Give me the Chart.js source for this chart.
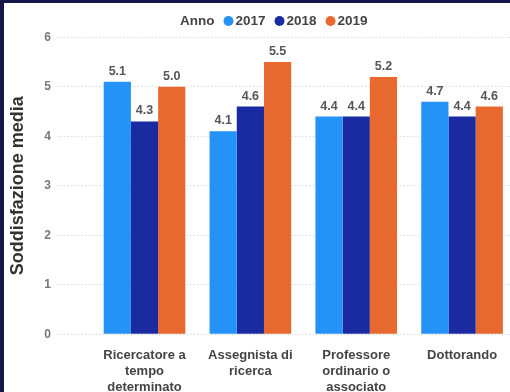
<!DOCTYPE html>
<html lang="it">
<head>
<meta charset="utf-8">
<title>Soddisfazione media per ruolo</title>
<script src="https://cdn.jsdelivr.net/npm/chart.js@4.4.1/dist/chart.umd.min.js"></script>
<style>
  html, body { margin: 0; padding: 0; width: 510px; height: 392px; overflow: hidden; background: #16164a; }
  .frame { position: absolute; left: 4px; top: 3px; width: 511px; height: 389px; background: #fff; }
</style>
</head>
<body>
<div class="frame"><canvas id="satChart"></canvas></div>
<script>
// ── DATA ──────────────────────────────────────────────────────────────────────
const categories = [
  ['Ricercatore a', 'tempo', 'determinato'],
  ['Assegnista di', 'ricerca'],
  ['Professore', 'ordinario o', 'associato'],
  ['Dottorando']
];
const years = ['2017', '2018', '2019'];
const values2017 = [5.1, 4.1, 4.4, 4.7];
const values2018 = [4.3, 4.6, 4.4, 4.4];
const values2019 = [5.0, 5.5, 5.2, 4.6];
const yTicks = [0, 1, 2, 3, 4, 5, 6];

const colors = ['#2492f6', '#1a2aa0', '#e8692f'];
const FONT = '"Liberation Sans", Arial, sans-serif';

// ── PLUGINS ───────────────────────────────────────────────────────────────────
// value printed above every bar
const barValues = {
  id: 'barValues',
  afterDatasetsDraw(chart) {
    const ctx = chart.ctx;
    ctx.save();
    ctx.font = 'bold 12.5px ' + FONT;
    ctx.fillStyle = '#555';
    ctx.textAlign = 'center';
    ctx.textBaseline = 'alphabetic';
    chart.data.datasets.forEach((ds, i) => {
      chart.getDatasetMeta(i).data.forEach((bar, j) => {
        ctx.fillText(ds.data[j].toFixed(1), bar.x, bar.y - 7);
      });
    });
    ctx.restore();
  }
};

// "Anno" + round markers on a single row
const yearLegend = {
  id: 'yearLegend',
  afterDraw(chart) {
    const ctx = chart.ctx;
    const y = 18;
    let x = 176;
    ctx.save();
    ctx.font = 'bold 13.5px ' + FONT;
    ctx.fillStyle = '#444';
    ctx.textBaseline = 'middle';
    ctx.textAlign = 'left';
    ctx.fillText('Anno', x, y);
    x += ctx.measureText('Anno').width + 9;
    chart.data.datasets.forEach(ds => {
      ctx.beginPath();
      ctx.arc(x + 5, y, 5, 0, Math.PI * 2);
      ctx.fillStyle = ds.backgroundColor;
      ctx.fill();
      x += 12;
      ctx.fillStyle = '#444';
      ctx.fillText(ds.label, x, y);
      x += ctx.measureText(ds.label).width + 9;
    });
    ctx.restore();
  }
};

// ── CHART ─────────────────────────────────────────────────────────────────────
const seriesValues = [values2017, values2018, values2019];

new Chart(document.getElementById('satChart'), {
  type: 'bar',
  data: {
    labels: categories,
    datasets: years.map((yr, i) => ({
      label: yr,
      data: seriesValues[i],
      backgroundColor: colors[i],
      borderWidth: 0,
      categoryPercentage: 0.771,
      barPercentage: 1
    }))
  },
  options: {
    responsive: true, maintainAspectRatio: false,
    animation: false,
    layout: { padding: { top: 34.3, right: 0, bottom: 0, left: 0 } },
    plugins: { legend: { display: false }, tooltip: { enabled: false } },
    scales: {
      x: {
        grid: { display: false, drawTicks: false },
        border: { display: false },
        ticks: {
          padding: 13.5, maxRotation: 0, autoSkip: false,
          color: '#444',
          font: { family: FONT, size: 13, weight: 'bold', lineHeight: 1.23 }
        },
        afterFit: s => { s.height = 57.7; }
      },
      y: {
        min: 0, max: 6,
        afterBuildTicks: s => { s.ticks = yTicks.map(v => ({ value: v })); },
        grid: {
          color: '#dcdcdc', lineWidth: 1,
          tickLength: 34.6, tickColor: '#dcdcdc', tickBorderDash: [1.5, 2]
        },
        border: { display: false, dash: [1.5, 2] },
        ticks: {
          padding: 6, color: '#777',
          font: { family: FONT, size: 12, weight: 'bold' }
        },
        title: {
          display: true, text: 'Soddisfazione media',
          color: '#333', padding: { top: 3, bottom: 0 },
          font: { family: FONT, size: 18, weight: 'bold' }
        },
        afterFit: s => { s.width = 87.6; }
      }
    }
  },
  plugins: [barValues, yearLegend]
});
</script>
</body>
</html>
